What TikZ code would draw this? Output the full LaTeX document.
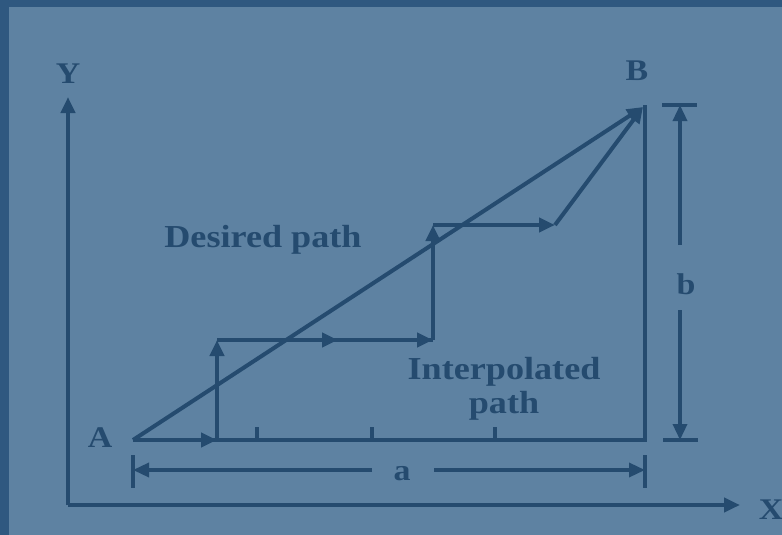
\documentclass[tikz,border=0pt]{standalone}
\usepackage{fontspec}
\setmainfont{Liberation Serif}[FakeStretch=1.13]
\usetikzlibrary{arrows.meta}
\definecolor{framec}{HTML}{2F5880}
\definecolor{bgc}{HTML}{5E82A2}
\definecolor{inkc}{HTML}{254B6F}
\begin{document}
\begin{tikzpicture}[x=1pt,y=-1pt,
  ln/.style={draw=inkc,line width=4pt},
  thin/.style={draw=inkc,line width=3.4pt},
  tip/.style={-{Triangle[length=16pt,width=14pt]}},
  lbl/.style={text=inkc,font=\bfseries\fontsize{32}{34}\selectfont,inner sep=0pt},
  slbl/.style={text=inkc,font=\bfseries\fontsize{30}{32}\selectfont,inner sep=0pt}]
\useasboundingbox (0,0) rectangle (782,535);
\fill[framec] (0,0) rectangle (782,535);
\fill[bgc] (9,7) rectangle (782,535);
% points
\coordinate (O) at (68,505);
\coordinate (Ytip) at (68,97);
\coordinate (Xtip) at (740,505);
\coordinate (A) at (133,440);
\coordinate (C) at (645,440);
\coordinate (B) at (643,107);
\coordinate (P1) at (217,440);
\coordinate (P2) at (217,340);
\coordinate (P2m) at (338,340);
\coordinate (P3) at (433,340);
\coordinate (P4) at (433,225);
\coordinate (P5) at (555,225);
% axes
\draw[ln,tip] (O) -- (Ytip);
\draw[ln,tip] (O) -- (Xtip);
\node[slbl] (ly) at (68,74) {Y};
\node[slbl] (lx) at (771,510) {X};
\node[slbl] (lb) at (637,71) {B};
\node[slbl] (la) at (100,438) {A};
% baseline and right side
\draw[ln] (A) -- (C) -- (645,105);
\foreach \t in {257,372,495}{\draw[ln] (\t,440) -- (\t,427);}
% desired path
\draw[ln,tip] (A) -- (B);
% interpolated path
\draw[ln,tip] (A) -- (P1);
\draw[ln,tip] (P1) -- (P2);
\draw[ln] (P2) -- (P3);
\draw[ln,tip] (P2) -- (P2m);
\draw[ln,tip] (P2m) -- (P3);
\draw[ln,tip] (P3) -- (P4);
\draw[ln,tip] (P4) -- (P5);
\draw[ln,tip] (P5) -- (B);
% dimension a
\coordinate (aL) at (133,470);
\coordinate (aR) at (645,470);
\draw[ln] (133,455) -- (133,488);
\draw[ln] (645,455) -- (645,488);
\node[slbl] (lA) at (402,474) {a};
\draw[thin,tip] (372,470) -- (aL);
\draw[thin,tip] (434,470) -- (aR);
% dimension b
\coordinate (bT) at (680,105);
\coordinate (bB) at (680,440);
\draw[ln] (662,105) -- (697,105);
\draw[ln] (663,440) -- (698,440);
\node[slbl] (lB) at (686,284) {b};
\draw[thin,tip] (680,245) -- (bT);
\draw[thin,tip] (680,310) -- (bB);
% texts
\node[lbl] (dp) at (263,240) {Desired path};
\node[lbl,align=center] (ip) at (504,389) {Interpolated\\path};
\end{tikzpicture}
\end{document}
